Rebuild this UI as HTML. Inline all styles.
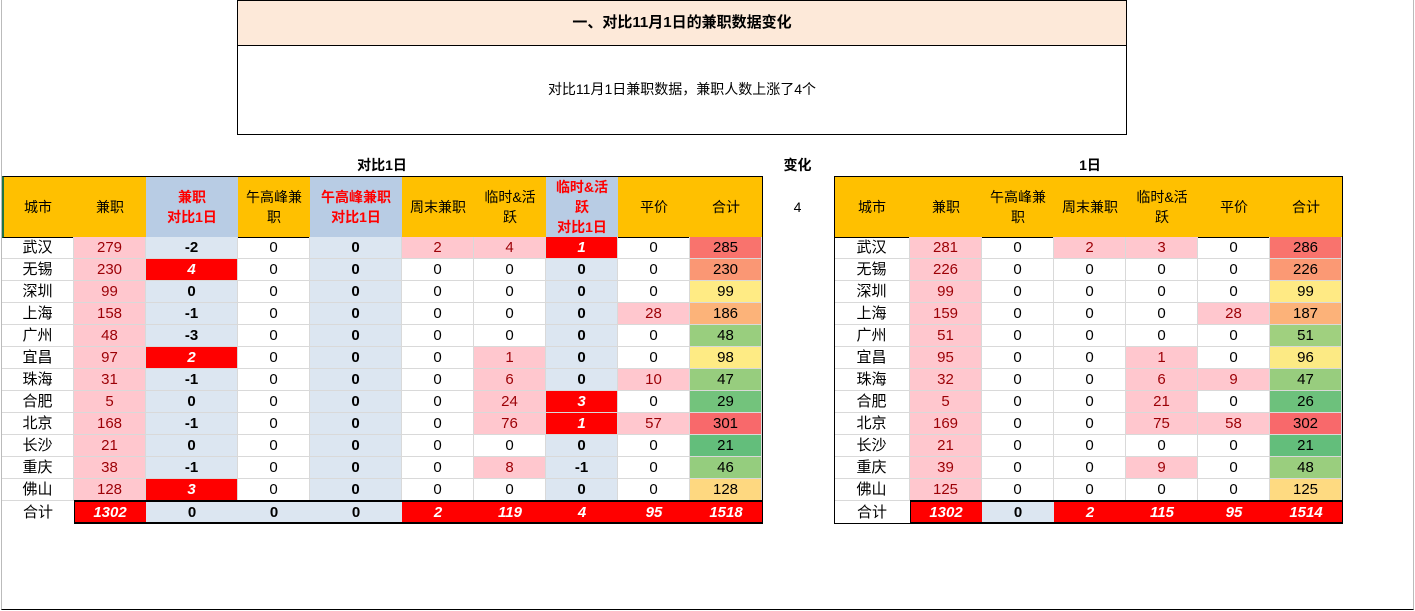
<!DOCTYPE html>
<html><head><meta charset="utf-8">
<style>
body{margin:0;width:1415px;height:611px;background:#fff;position:relative;overflow:hidden;font-family:"Liberation Sans","Noto Sans CJK SC",sans-serif;}
.c{position:absolute;box-sizing:border-box;display:flex;align-items:center;justify-content:center;text-align:center;font-size:15px;color:#000;line-height:1.25;}
.abs{position:absolute;box-sizing:border-box;}
</style></head><body>
<div class="abs" style="left:1px;top:0;width:1413px;height:610px;border-left:1px solid #bbb;border-right:1px solid #bbb;border-bottom:1px solid #000;"></div>
<div class="c" style="left:237px;top:0;width:890px;height:46px;background:#fde9d9;border:1px solid #000;font-weight:bold;font-size:15px;">一、对比11月1日的兼职数据变化</div>
<div class="c" style="left:237px;top:45px;width:890px;height:90px;border:1px solid #000;border-top:none;font-size:14px;">对比11月1日兼职数据，兼职人数上涨了4个</div>
<div class="c" style="left:282px;top:156px;width:200px;height:20px;font-weight:bold;font-size:14px;">对比1日</div>
<div class="c" style="left:770px;top:156px;width:55px;height:20px;font-weight:bold;font-size:14px;">变化</div>
<div class="c" style="left:770px;top:197px;width:55px;height:22px;font-size:14px;">4</div>
<div class="c" style="left:1040px;top:156px;width:100px;height:20px;font-weight:bold;font-size:14px;">1日</div>
<div id="root"></div>
<script>
const cities=["武汉","无锡","深圳","上海","广州","宜昌","珠海","合肥","北京","长沙","重庆","佛山"];
// compare table
const cJianzhi=[279,230,99,158,48,97,31,5,168,21,38,128];
const cJianzhiDiff=[-2,4,0,-1,-3,2,-1,0,-1,0,-1,3];
const cWugao=[0,0,0,0,0,0,0,0,0,0,0,0];
const cWugaoDiff=[0,0,0,0,0,0,0,0,0,0,0,0];
const cZhoumo=[2,0,0,0,0,0,0,0,0,0,0,0];
const cLinshi=[4,0,0,0,0,1,6,24,76,0,8,0];
const cLinshiDiff=[1,0,0,0,0,0,0,3,1,0,-1,0];
const cPingjia=[0,0,0,28,0,0,10,0,57,0,0,0];
const cTotal=[285,230,99,186,48,98,47,29,301,21,46,128];
const cSums=["1302","0","0","0","2","119","4","95","1518"];
// day1 table
const dJianzhi=[281,226,99,159,51,95,32,5,169,21,39,125];
const dWugao=[0,0,0,0,0,0,0,0,0,0,0,0];
const dZhoumo=[2,0,0,0,0,0,0,0,0,0,0,0];
const dLinshi=[3,0,0,0,0,1,6,21,75,0,9,0];
const dPingjia=[0,0,0,28,0,0,9,0,58,0,0,0];
const dTotal=[286,226,99,187,51,96,47,26,302,21,48,125];
const dSums=["1302","0","2","115","95","1514"];

const root=document.getElementById('root');
const PINK='#ffc7ce',PTXT='#9c0006',BLUE='#dce6f1',HB='#b8cce4',OR='#ffc000',RED='#ff0000';
function cell(x,y,w,h,txt,st,name,inter){
  const d=document.createElement('div');d.className='c';
  d.style.cssText=`left:${x}px;top:${y}px;width:${w}px;height:${h}px;`+(st||'');
  d.innerHTML=txt;
  
  
  root.appendChild(d);return d;
}
function lerp(a,b,t){return a.map((v,i)=>Math.round(v+(b[i]-v)*t));}
function scaleColor(v,arr){
  const s=[...arr].sort((a,b)=>a-b);const mn=s[0],mx=s[s.length-1];
  const md=(s[5]+s[6])/2;
  const g=[99,190,123],y=[255,235,132],r=[248,105,107];
  let c= v<=md? lerp(g,y,(v-mn)/(md-mn||1)) : lerp(y,r,(v-md)/(mx-md||1));
  return `rgb(${c.join(',')})`;
}
const ROW0=237,RH=22;
function grid(){return `border-right:1px solid #d9d9d9;border-bottom:1px solid #d9d9d9;padding-top:2px;`}
function build(xs,hdrs,hdrBg,cols,sums,sumStyles,prefix,totalArr){
  for(let i=0;i<hdrs.length;i++){
    const blue=hdrBg[i];
    cell(xs[i],177,xs[i+1]-xs[i],60,hdrs[i],`background:${blue?HB:OR};font-size:14px;line-height:20px;${blue?'color:#ff0000;font-weight:bold;':''}`,prefix+'-header-'+i,false);
  }
  const hb=document.createElement('div');hb.className='abs';
  hb.style.cssText=`left:${xs[0]}px;top:176px;width:${xs[xs.length-1]-xs[0]+1}px;height:62px;border:1px solid #000;border-left:${prefix==='compare'?'2px solid #217346':'1px solid #000'};`;
  
  
  root.appendChild(hb);
  for(let r=0;r<12;r++){
    const y=ROW0+r*RH;
    cell(xs[0],y,xs[1]-xs[0],RH,cities[r],grid(),prefix+'-city-'+r,false);
    cols.forEach((col,ci)=>{
      const v=col.data[r];const x=xs[ci+1],w=xs[ci+2]-x;let st=grid();
      if(col.type==='pink'){st+=`background:${PINK};color:${PTXT};`;}
      else if(col.type==='pinknz'){if(v!==0)st+=`background:${PINK};color:${PTXT};`;}
      else if(col.type==='diff'){st+='font-weight:bold;'+(v>0?`background:${RED};color:#fff;font-style:italic;`:`background:${BLUE};`);}
      else if(col.type==='total'){st+=`background:${scaleColor(v,totalArr)};`;}
      cell(x,y,w,RH,String(v),st,prefix+'-'+col.name+'-'+r,false);
    });
  }
  const ty=ROW0+12*RH;
  cell(xs[0],ty,xs[1]-xs[0],RH,'合计','padding-top:2px;',prefix+'-total-label',false);
  sums.forEach((s,i)=>{
    const red=sumStyles[i];
    cell(xs[i+1],ty,xs[i+2]-xs[i+1],RH,s,'padding-top:2px;font-weight:bold;'+(red?`background:${RED};color:#fff;font-style:italic;`:`background:${BLUE};`),prefix+'-sum-'+i,false);
  });
  const tb=document.createElement('div');tb.className='abs';
  tb.style.cssText=`left:${xs[1]}px;top:${ty-1}px;width:${xs[xs.length-1]-xs[1]+1}px;height:${RH+2}px;border:1px solid #000;border-width:2px 1px 2px 1px;`;
  
  
  root.appendChild(tb);
  const rb=document.createElement('div');rb.className='abs';
  rb.style.cssText=`left:${xs[xs.length-1]}px;top:237px;width:1px;height:${12*RH}px;background:#000;`;
  
  
  root.appendChild(rb);
  if(prefix==='day1'){
    const lb=document.createElement('div');lb.className='abs';
    lb.style.cssText=`left:${xs[0]}px;top:237px;width:1px;height:${13*RH+1}px;background:#000;`;
    
    
    root.appendChild(lb);
    const bb=document.createElement('div');bb.className='abs';
    bb.style.cssText=`left:${xs[0]}px;top:${ty+RH}px;width:${xs[1]-xs[0]}px;height:1px;background:#000;`;
    
    
    root.appendChild(bb);
  }
}
build([2,74,146,238,310,402,474,546,618,690,762],
 ['城市','兼职','兼职<br>对比1日','午高峰兼<br>职','午高峰兼职<br>对比1日','周末兼职','临时&amp;活<br>跃','临时&amp;活<br>跃<br>对比1日','平价','合计'],
 [0,0,1,0,1,0,0,1,0,0],
 [{name:'jianzhi',type:'pink',data:cJianzhi},{name:'jianzhi-diff',type:'diff',data:cJianzhiDiff},{name:'wugao',type:'plain',data:cWugao},{name:'wugao-diff',type:'diff',data:cWugaoDiff},{name:'zhoumo',type:'pinknz',data:cZhoumo},{name:'linshi',type:'pinknz',data:cLinshi},{name:'linshi-diff',type:'diff',data:cLinshiDiff},{name:'pingjia',type:'pinknz',data:cPingjia},{name:'total',type:'total',data:cTotal}],
 cSums,[1,0,0,0,1,1,1,1,1],'compare',cTotal);
build([834,910,982,1054,1126,1198,1270,1342],
 ['城市','兼职','午高峰兼<br>职','周末兼职','临时&amp;活<br>跃','平价','合计'],
 [0,0,0,0,0,0,0],
 [{name:'jianzhi',type:'pink',data:dJianzhi},{name:'wugao',type:'plain',data:dWugao},{name:'zhoumo',type:'pinknz',data:dZhoumo},{name:'linshi',type:'pinknz',data:dLinshi},{name:'pingjia',type:'pinknz',data:dPingjia},{name:'total',type:'total',data:dTotal}],
 dSums,[1,0,1,1,1,1],'day1',dTotal);
</script>
</body></html>
